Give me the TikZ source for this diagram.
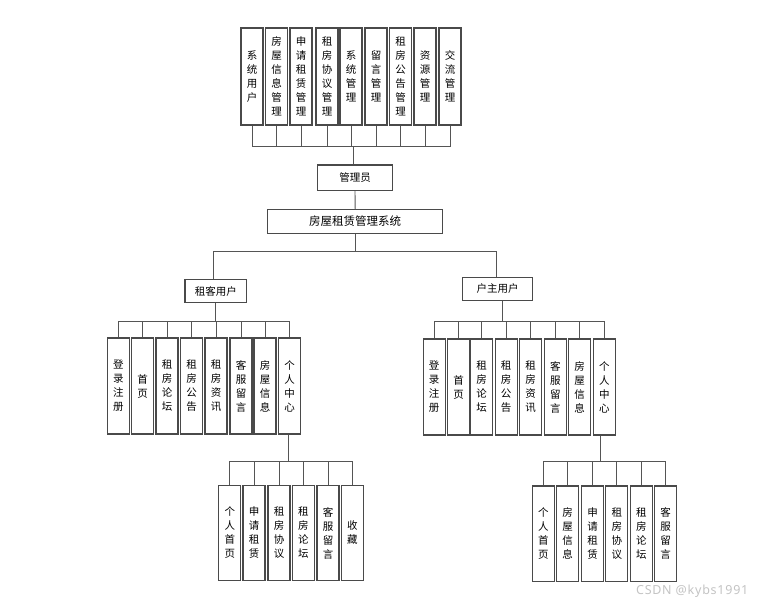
\documentclass[tikz,border=0pt]{standalone}
\usepackage{fontspec}
\setmainfont{Noto Sans CJK SC}
\newfontfamily\wmfont[LetterSpace=6]{Noto Sans}
\definecolor{boxc}{HTML}{4A4A4A}
\definecolor{linec}{HTML}{555555}
\definecolor{wmc}{HTML}{C4C4C4}
\begin{document}
\begin{tikzpicture}[x=1pt,y=-1pt,
  vbox/.style={draw=boxc,line width=1.1pt,minimum width=22pt,text width=12pt,align=center,inner sep=0pt,font=\fontsize{10.5}{14}\selectfont},
  hbox/.style={draw=boxc,line width=1.1pt,inner sep=0pt,align=center,font=\fontsize{10.5}{12}\selectfont},
  conn/.style={draw=linec,line width=0.9pt}]
\useasboundingbox (0,0) rectangle (764,606);
\fill[white] (0,0) rectangle (764,606);
% top row
\foreach \n/\x/\t in {t1/252/系\\统\\用\\户, t2/276.5/房\\屋\\信\\息\\管\\理, t3/301/申\\请\\租\\赁\\管\\理, t4/327/租\\房\\协\\议\\管\\理, t5/351/系\\统\\管\\理, t6/376/留\\言\\管\\理, t7/400.5/租\\房\\公\\告\\管\\理, t8/425/资\\源\\管\\理, t9/450/交\\流\\管\\理}
  \node[vbox,minimum height=97pt] (\n) at (\x,76.5) {\t};
\node[hbox,minimum width=74.6pt,minimum height=25.7pt] (admin) at (355,177.8) {管理员};
\node[hbox,minimum width=175pt,minimum height=24pt,font=\fontsize{11.5}{13}\selectfont] (sys) at (355.2,221.3) {房屋租赁管理系统};
\node[hbox,minimum width=61.7pt,minimum height=23.4pt] (tenant) at (215.8,291) {租客用户};
\node[hbox,minimum width=69.6pt,minimum height=23.4pt] (owner) at (497.5,289) {户主用户};
% left group
\foreach \n/\x/\t in {l1/118.3/登\\录\\注\\册, l2/142.5/首\\页, l3/167/租\\房\\论\\坛, l4/191.5/租\\房\\公\\告, l5/216/租\\房\\资\\讯, l6/241/客\\服\\留\\言, l7/265/房\\屋\\信\\息, l8/289.7/个\\人\\中\\心}
  \node[vbox,minimum height=96pt] (\n) at (\x,386) {\t};
\foreach \n/\x/\t in {ls1/229.8/个\\人\\首\\页, ls2/254/申\\请\\租\\赁, ls3/279/租\\房\\协\\议, ls4/303.3/租\\房\\论\\坛, ls5/328/客\\服\\留\\言, ls6/352.3/收\\藏}
  \node[vbox,minimum height=95.5pt] (\n) at (\x,533) {\t};
% right group
\foreach \n/\x/\t in {r1/434.2/登\\录\\注\\册, r2/458.5/首\\页, r3/481.7/租\\房\\论\\坛, r4/506.2/租\\房\\公\\告, r5/530.7/租\\房\\资\\讯, r6/555.3/客\\服\\留\\言, r7/579.7/房\\屋\\信\\息, r8/604.3/个\\人\\中\\心}
  \node[vbox,minimum height=96pt] (\n) at (\x,387) {\t};
\foreach \n/\x/\t in {rs1/543.3/个\\人\\首\\页, rs2/567.5/房\\屋\\信\\息, rs3/592.7/申\\请\\租\\赁, rs4/616.8/租\\房\\协\\议, rs5/641.3/租\\房\\论\\坛, rs6/665.7/客\\服\\留\\言}
  \node[vbox,minimum height=95.5pt] (\n) at (\x,533.7) {\t};
% connectors
\path (admin.north) ++(-1.5,-18.3) coordinate (busA);
\foreach \n in {t1,t2,t3,t4,t5,t6,t7,t8,t9} \draw[conn] (\n.south) |- (busA);
\draw[conn] (busA) -- (busA |- admin.north);
\draw[conn] (admin.south) -- (sys.north);
\path (sys.south) ++(0,17.7) coordinate (busB);
\draw[conn] (sys.south) -- (busB);
\draw[conn] (busB) -| ([xshift=-2.5pt]tenant.north);
\draw[conn] (busB) -| ([xshift=-0.8pt]owner.north);
\path (tenant.south) ++(0,18.3) coordinate (busL);
\draw[conn] (tenant.south) -- (busL);
\foreach \n in {l1,l2,l3,l4,l5,l6,l7,l8} \draw[conn] (busL) -| (\n.north);
\path ([xshift=-1pt]l8.south) ++(0,26.7) coordinate (busLS);
\draw[conn] ([xshift=-1pt]l8.south) -- (busLS);
\foreach \n in {ls1,ls2,ls3,ls4,ls5,ls6} \draw[conn] (busLS) -| (\n.north);
\path ([xshift=5.3pt]owner.south) ++(0,20) coordinate (busR);
\draw[conn] ([xshift=5.3pt]owner.south) -- (busR);
\foreach \n in {r1,r2,r3,r4,r5,r6,r7,r8} \draw[conn] (busR) -| (\n.north);
\path ([xshift=-3.6pt]r8.south) ++(0,26.3) coordinate (busRS);
\draw[conn] ([xshift=-3.6pt]r8.south) -- (busRS);
\foreach \n in {rs1,rs2,rs3,rs4,rs5,rs6} \draw[conn] (busRS) -| (\n.north);
% watermark
\node[anchor=east,inner sep=0pt,text=wmc,font=\wmfont\fontsize{12.5}{14}\selectfont] (wm) at (748.5,591) {CSDN @kybs1991};
\end{tikzpicture}
\end{document}
